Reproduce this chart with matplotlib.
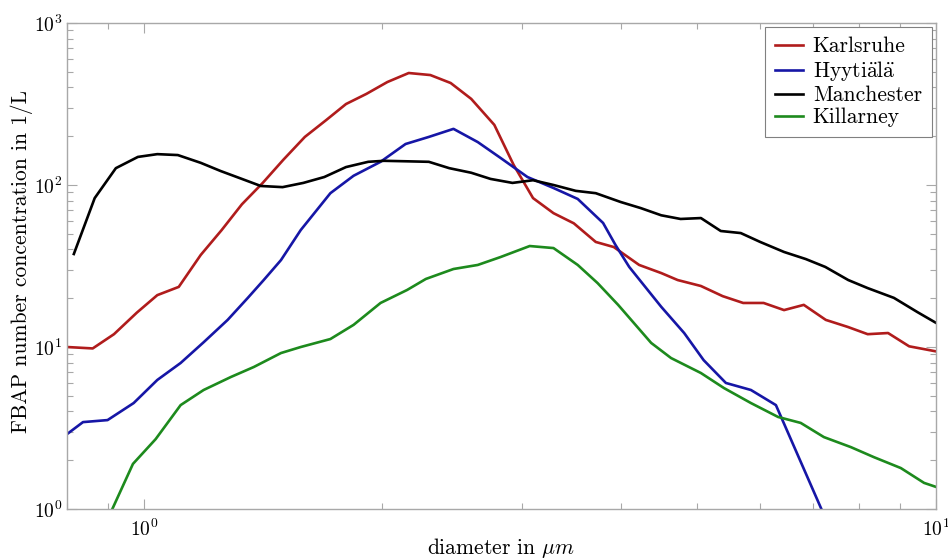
import numpy as np
import matplotlib
matplotlib.use('Agg')
import matplotlib.pyplot as plt

plt.rcParams['font.family'] = ['cmr10', 'DejaVu Serif']
plt.rcParams['mathtext.fontset'] = 'cm'
plt.rcParams['axes.formatter.use_mathtext'] = True

## data (diameter in um, concentration in 1/L)
x_karlsruhe = [0.80, 0.862, 0.917, 0.98, 1.04, 1.107, 1.18, 1.254, 1.33, 1.413, 1.50, 1.597, 1.70, 1.80,
               1.91, 2.03, 2.16, 2.30, 2.44, 2.59, 2.77, 2.93, 3.10, 3.29, 3.49, 3.72, 3.92, 4.22, 4.50,
               4.72, 5.05, 5.38, 5.71, 6.06, 6.43, 6.81, 7.26, 7.74, 8.2, 8.7, 9.25, 10.0]
y_karlsruhe = [10.0, 9.8, 12.0, 16.3, 20.9, 23.5, 37, 52.7, 76, 103, 143, 198, 252, 316,
               365, 432, 491, 477, 426, 340, 235, 133, 83, 67, 58, 44.5, 41.4, 32.1, 28.6,
               25.9, 23.8, 20.6, 18.7, 18.7, 16.9, 18.2, 14.7, 13.3, 12.0, 12.2, 10.1, 9.4]

x_hyytiala = [0.80, 0.838, 0.90, 0.971, 1.04, 1.113, 1.19, 1.276, 1.353, 1.417, 1.49, 1.578, 1.72, 1.84,
              1.99, 2.14, 2.29, 2.46, 2.64, 2.82, 3.05, 3.29, 3.53, 3.80, 3.94, 4.10, 4.50, 4.81,
              5.09, 5.43, 5.84, 6.28, 7.4]
y_hyytiala = [2.9, 3.44, 3.54, 4.51, 6.26, 7.97, 10.7, 14.7, 20.1, 25.9, 34.4, 52.7, 89, 114,
              139, 179, 198, 222, 184, 147, 112, 95.8, 82, 58.3, 42.6, 31.2, 17.7, 12.2,
              8.3, 6.0, 5.43, 4.38, 0.7]

x_manchester = [0.816, 0.867, 0.922, 0.983, 1.04, 1.104, 1.18, 1.25, 1.33, 1.405, 1.497, 1.59, 1.69, 1.80,
                1.92, 2.01, 2.15, 2.29, 2.43, 2.59, 2.74, 2.92, 3.10, 3.29, 3.51, 3.72, 4.0, 4.24,
                4.50, 4.76, 5.05, 5.35, 5.67, 6.0, 6.43, 6.85, 7.25, 7.75, 8.2, 8.85, 9.48, 10.0]
y_manchester = [37.5, 83, 127, 149, 155, 153, 137, 122, 109, 98.6, 97, 103, 112, 129,
                139, 141, 140, 139, 127, 119, 109, 103, 107, 100, 92, 89, 78.5, 72,
                65, 61.7, 62.5, 52, 50.5, 44.5, 38.6, 34.9, 31.2, 25.9, 23.1, 20.1, 16.4, 14.1]

x_killarney = [0.87, 0.969, 1.035, 1.113, 1.19, 1.288, 1.377, 1.49, 1.578, 1.72, 1.84, 1.99, 2.15, 2.27,
               2.46, 2.64, 2.82, 3.07, 3.29, 3.53, 3.74, 3.97, 4.37, 4.63, 5.05, 5.40, 5.84, 6.32,
               6.75, 7.22, 7.81, 8.35, 9.03, 9.66, 10.0]
y_killarney = [0.6, 1.90, 2.70, 4.38, 5.43, 6.53, 7.53, 9.18, 10.0, 11.2, 13.7, 18.7, 22.5, 26.3,
               30.3, 32.1, 35.9, 42, 40.8, 32.1, 24.8, 18.2, 10.6, 8.55, 6.91, 5.58, 4.51, 3.70,
               3.40, 2.78, 2.41, 2.09, 1.79, 1.45, 1.37]

labels = ['Karlsruhe', r'Hyyti$\ddot{\mathrm{a}}$l$\ddot{\mathrm{a}}$', 'Manchester', 'Killarney']
colors = ['#b01c1c', '#1616a6', '#000000', '#1d8a1d']

fig = plt.figure(figsize=(9.48, 5.6), dpi=100)
ax = fig.add_axes([0.0707, 0.091, 0.9166, 0.868])

series = [(x_karlsruhe, y_karlsruhe), (x_hyytiala, y_hyytiala),
          (x_manchester, y_manchester), (x_killarney, y_killarney)]
for (xs, ys), lab, col in zip(series, labels, colors):
    ax.plot(xs, ys, color=col, lw=1.9, label=lab)

ax.set_xscale('log')
ax.set_yscale('log')
ax.set_xlim(0.8, 10)
ax.set_ylim(1, 1000)

for sp in ax.spines.values():
    sp.set_color('#a8a8a8')
    sp.set_linewidth(1.0)
ax.tick_params(which='both', direction='in', top=True, right=True, color='#a8a8a8', labelsize=14)
ax.tick_params(which='major', length=7, width=0.8)
ax.tick_params(which='minor', length=4, width=0.8)
ax.tick_params(axis='x', which='major', pad=7)

ax.set_xlabel(r'diameter in $\mu m$', fontsize=15.5)
ax.set_ylabel('FBAP number concentration in 1/L', fontsize=15.5)
ax.xaxis.set_label_coords(0.5, -0.056)
ax.yaxis.set_label_coords(-0.039, 0.509)

leg = ax.legend(loc='upper right', fontsize=15.5, fancybox=False, framealpha=1,
                edgecolor='#808080', borderaxespad=0.2, handlelength=1.3,
                handletextpad=0.45, labelspacing=0.12, borderpad=0.45)
leg.get_frame().set_linewidth(0.8)

fig.savefig('out.png', dpi=100)
